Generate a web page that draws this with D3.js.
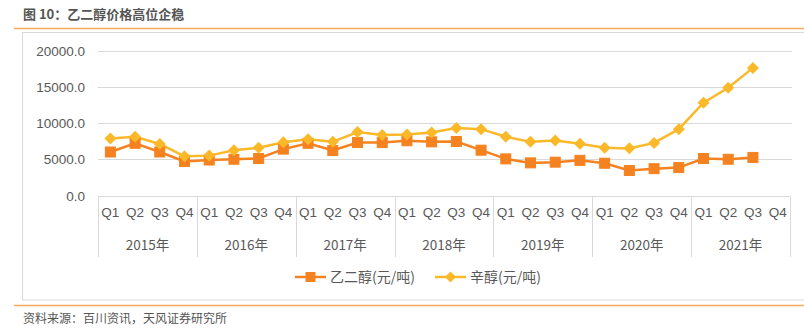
<!DOCTYPE html>
<html><head><meta charset="utf-8">
<script src="https://cdn.jsdelivr.net/npm/d3@7"></script>
<style>body{margin:0;background:#fff;}svg{display:block;font-family:"Noto Sans CJK SC","Liberation Sans",sans-serif;}</style>
</head><body>
<svg id="c" width="804" height="331"></svg>
<script>
const years = ["2015年","2016年","2017年","2018年","2019年","2020年","2021年"];
const quarters = ["Q1","Q2","Q3","Q4"];
const yTicks = [0,5000,10000,15000,20000];
const seriesNames = ["乙二醇(元/吨)","辛醇(元/吨)"];
const meg = [6000,7200,6000,4700, 4900,5000,5100,6400, 7200,6200,7300,7300, 7550,7400,7450,6250, 5050,4500,4600,4850, 4450,3450,3700,3850, 5100,5000,5250,null];
const octanol = [7850,8100,7100,5400, 5500,6250,6600,7350, 7750,7400,8750,8350, 8400,8700,9300,9150, 8100,7400,7600,7150, 6600,6500,7250,9150, 12800,14850,17600,null];

const svg = d3.select("#c");
const colors = ["#F58220","#FBB829"];
const textColor = "#595959";

// title
svg.append("text").attr("x",23).attr("y",19).attr("font-size",13).attr("font-weight","bold").attr("fill","#555").text("图 10：乙二醇价格高位企稳");
svg.append("line").attr("x1",14).attr("x2",804).attr("y1",28.5).attr("y2",28.5).attr("stroke","#F7A95B").attr("stroke-width",1.5);
// border box
svg.append("rect").attr("x",22.5).attr("y",32.5).attr("width",800).attr("height",267.5).attr("fill","none").attr("stroke","#D9D9D9");
// bottom line + source
svg.append("line").attr("x1",14).attr("x2",804).attr("y1",305.5).attr("y2",305.5).attr("stroke","#F7A95B").attr("stroke-width",1.5);
svg.append("text").attr("x",23).attr("y",323).attr("font-size",12).attr("fill","#555").text("资料来源：百川资讯，天风证券研究所");

const cats = [];
years.forEach(y=>quarters.forEach(q=>cats.push(y+q)));
const x = d3.scaleBand().domain(cats).range([98,790]);
const y = d3.scaleLinear().domain([0,20000]).range([195.5,50.5]);

// gridlines
svg.append("g").selectAll("line").data(yTicks.slice(1)).join("line")
  .attr("x1",98).attr("x2",792).attr("y1",d=>Math.round(y(d))+0.5).attr("y2",d=>Math.round(y(d))+0.5)
  .attr("stroke","#D9D9D9");
// y labels
svg.append("g").selectAll("text").data(yTicks).join("text")
  .attr("x",85).attr("y",d=>y(d)+5).attr("text-anchor","end").attr("font-size",13.5)
  .attr("font-family","Liberation Sans, Arial, sans-serif").attr("fill",textColor).text(d=>d.toFixed(1));

// x axis box
const axY = Math.round(y(0))+0.5;
svg.append("line").attr("x1",98).attr("x2",790).attr("y1",axY).attr("y2",axY).attr("stroke","#D9D9D9");
const seps = years.map((yy,i)=>x(yy+"Q1")).concat([790]);
svg.append("g").selectAll("line").data(seps).join("line")
  .attr("x1",d=>Math.round(d)+0.5).attr("x2",d=>Math.round(d)+0.5).attr("y1",axY).attr("y2",257)
  .attr("stroke","#D9D9D9");
svg.append("g").selectAll("text").data(cats).join("text")
  .attr("x",d=>x(d)+x.bandwidth()/2).attr("y",217).attr("text-anchor","middle").attr("font-size",13.5)
  .attr("font-family","Liberation Sans, Arial, sans-serif").attr("fill",textColor).text(d=>d.slice(-2));
svg.append("g").selectAll("text").data(years).join("text")
  .attr("x",d=>x(d+"Q1")+x.bandwidth()*2).attr("y",250).attr("text-anchor","middle").attr("font-size",13.5)
  .attr("fill",textColor).text(d=>d);

// lines
const line = d3.line().defined(d=>d.v!=null).x(d=>x(d.c)+x.bandwidth()/2).y(d=>y(d.v));
const data = [meg,octanol].map(arr=>arr.map((v,i)=>({c:cats[i],v})));
data.forEach((s,si)=>{
  svg.append("path").datum(s).attr("d",line).attr("fill","none").attr("stroke",colors[si]).attr("stroke-width",2.5);
});
// markers
svg.append("g").selectAll("rect").data(data[0].filter(d=>d.v!=null)).join("rect")
  .attr("x",d=>x(d.c)+x.bandwidth()/2-5).attr("y",d=>y(d.v)-5).attr("width",10).attr("height",10)
  .attr("fill",colors[0]).attr("stroke",colors[0]).attr("stroke-width",1);
const diamond = d3.symbol().type(d3.symbolDiamond2 || d3.symbolSquare).size(90);
svg.append("g").selectAll("path").data(data[1].filter(d=>d.v!=null)).join("path")
  .attr("transform",d=>`translate(${x(d.c)+x.bandwidth()/2},${y(d.v)}) rotate(45)`)
  .attr("d",d3.symbol().type(d3.symbolSquare).size(72)).attr("fill",colors[1]);

// legend
const lg = [{x:295,name:seriesNames[0]},{x:435,name:seriesNames[1]}];
lg.forEach((l,i)=>{
  svg.append("line").attr("x1",l.x).attr("x2",l.x+31).attr("y1",277).attr("y2",277).attr("stroke",colors[i]).attr("stroke-width",2.5);
  if(i===0) svg.append("rect").attr("x",l.x+10.5).attr("y",272).attr("width",10).attr("height",10).attr("fill",colors[0]);
  else svg.append("path").attr("transform",`translate(${l.x+15.5},277) rotate(45)`).attr("d",d3.symbol().type(d3.symbolSquare).size(60)).attr("fill",colors[1]);
  svg.append("text").attr("x",l.x+35).attr("y",282).attr("font-size",14).attr("fill",textColor).text(l.name);
});
</script>
</body></html>
